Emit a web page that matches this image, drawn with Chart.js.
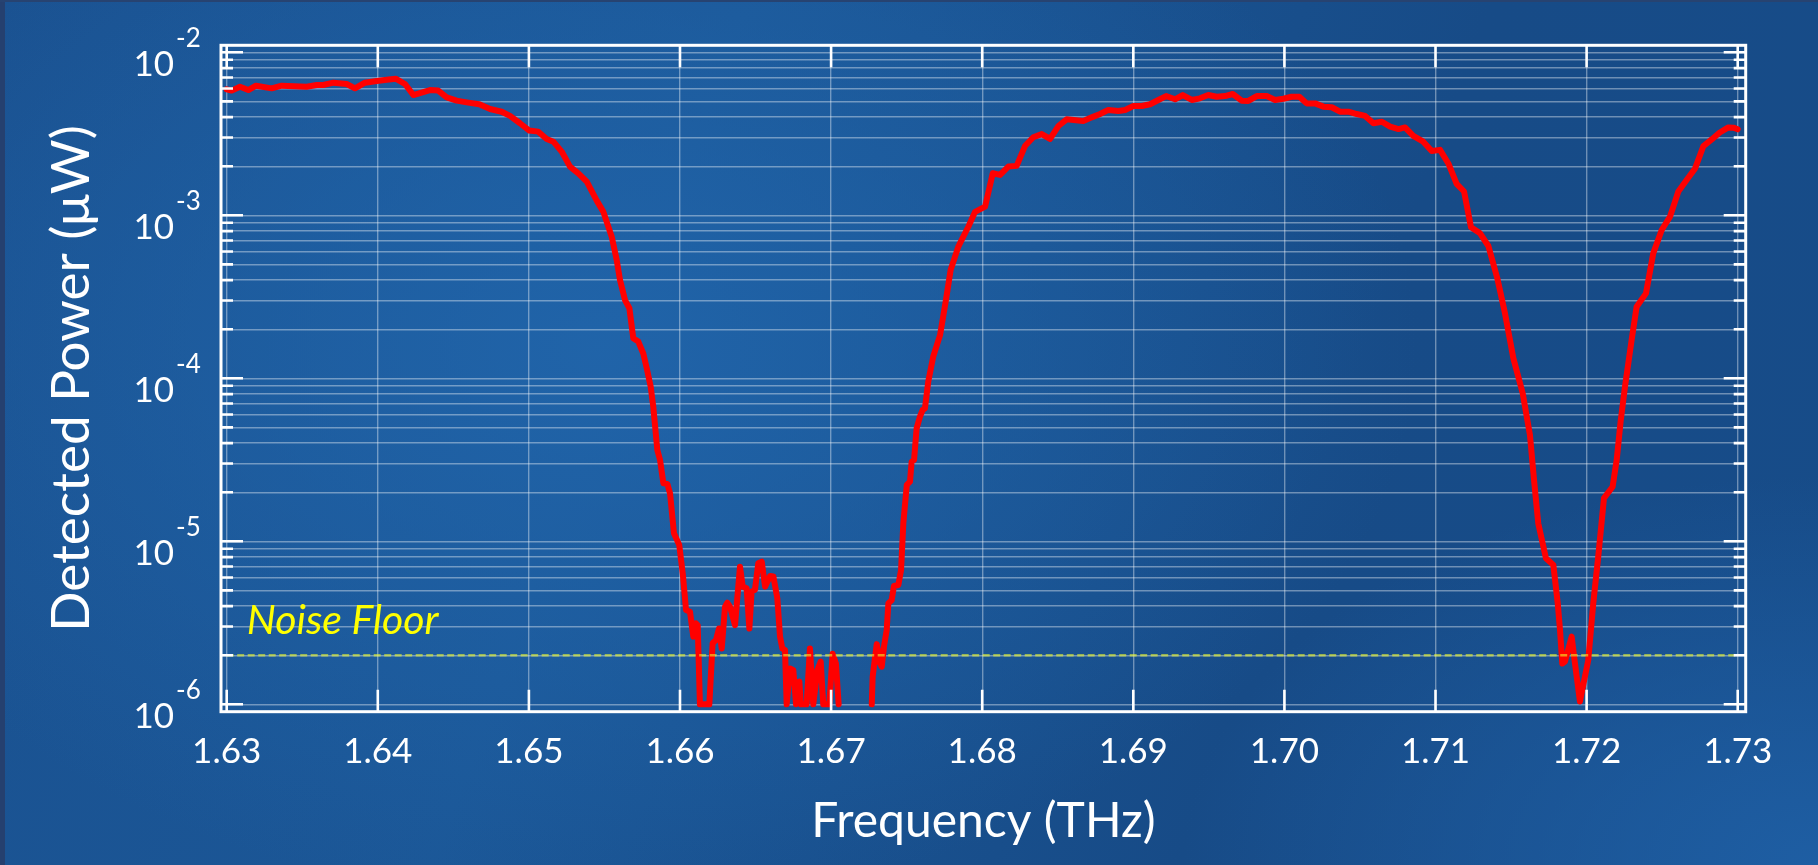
<!DOCTYPE html>
<html>
<head>
<meta charset="utf-8">
<title>Detected Power vs Frequency</title>
<script src="https://cdn.jsdelivr.net/npm/chart.js@4.4.1/dist/chart.umd.min.js"></script>
<style>
  html, body {
    margin: 0;
    padding: 0;
    overflow: hidden;
  }
  body {
    width: 1818px;
    height: 865px;
    position: relative;
    background:
      radial-gradient(ellipse 45% 65% at 33% 40%, rgba(33, 102, 172, 0.85), rgba(33, 102, 172, 0) 100%),
      radial-gradient(ellipse 35% 45% at 100% 100%, rgba(31, 96, 166, 0.9), rgba(31, 96, 166, 0) 100%),
      linear-gradient(110deg, #1a5190 0%, #1b5797 35%, #174b87 70%, #174c89 100%);
  }
  /* thin dark strips at the left and top edges of the slide */
  body::before {
    content: "";
    position: absolute;
    left: 0; top: 0; bottom: 0;
    width: 5px;
    background: #25406f;
  }
  body::after {
    content: "";
    position: absolute;
    left: 0; top: 0; right: 0;
    height: 2px;
    background: #274371;
  }
  #chart {
    position: absolute;
    left: 0;
    top: 0;
  }
</style>
</head>
<body>
<canvas id="chart" width="1818" height="865"></canvas>
<script>
// ---------------------------------------------------------------------
// Data
// ---------------------------------------------------------------------
const freqTHz = [
  1.63000, 1.63033, 1.63088, 1.63143, 1.63194, 1.63298, 1.63364, 1.63529, 1.63596, 1.63639,
  1.63706, 1.63794, 1.63849, 1.63915, 1.63993, 1.64059, 1.64118, 1.64180, 1.64235, 1.64345,
  1.64400, 1.64456, 1.64522, 1.64588, 1.64672, 1.64743, 1.64820, 1.64875, 1.64941, 1.65003,
  1.65062, 1.65118, 1.65162, 1.65217, 1.65272, 1.65327, 1.65383, 1.65449, 1.65493, 1.65548,
  1.65581, 1.65603, 1.65636, 1.65665, 1.65691, 1.65724, 1.65757, 1.65780, 1.65806, 1.65823,
  1.65850, 1.65868, 1.65890, 1.65916, 1.65934, 1.65960, 1.65995, 1.66018, 1.66040, 1.66066,
  1.66088, 1.66104, 1.66117, 1.66132, 1.66194, 1.66216, 1.66238, 1.66258, 1.66276, 1.66298,
  1.66313, 1.66331, 1.66364, 1.66397, 1.66415, 1.66441, 1.66459, 1.66474, 1.66496, 1.66518,
  1.66541, 1.66563, 1.66596, 1.66618, 1.66644, 1.66662, 1.66677, 1.66695, 1.66706, 1.66728,
  1.66750, 1.66768, 1.66790, 1.66799, 1.66838, 1.66860, 1.66882, 1.66909, 1.66931, 1.66948,
  1.66988, 1.67010, 1.67032, 1.67050, 1.67160, 1.67269, 1.67275, 1.67302, 1.67324, 1.67335,
  1.67350, 1.67368, 1.67379, 1.67401, 1.67416, 1.67445, 1.67463, 1.67478, 1.67501, 1.67522,
  1.67533, 1.67549, 1.67566, 1.67588, 1.67606, 1.67621, 1.67643, 1.67676, 1.67721, 1.67760,
  1.67791, 1.67842, 1.67908, 1.67953, 1.68019, 1.68070, 1.68118, 1.68173, 1.68228, 1.68283,
  1.68338, 1.68394, 1.68449, 1.68504, 1.68559, 1.68669, 1.68725, 1.68780, 1.68835, 1.68901,
  1.68946, 1.69000, 1.69056, 1.69111, 1.69166, 1.69217, 1.69276, 1.69327, 1.69387, 1.69441,
  1.69496, 1.69552, 1.69607, 1.69658, 1.69717, 1.69761, 1.69817, 1.69883, 1.69938, 1.69993,
  1.70048, 1.70099, 1.70147, 1.70203, 1.70258, 1.70313, 1.70368, 1.70423, 1.70479, 1.70534,
  1.70589, 1.70645, 1.70700, 1.70755, 1.70798, 1.70853, 1.70919, 1.70975, 1.71030, 1.71085,
  1.71140, 1.71189, 1.71235, 1.71295, 1.71350, 1.71409, 1.71460, 1.71515, 1.71577, 1.71625,
  1.71652, 1.71680, 1.71731, 1.71780, 1.71809, 1.71824, 1.71839, 1.71857, 1.71901, 1.71923,
  1.71956, 1.72011, 1.72044, 1.72077, 1.72115, 1.72172, 1.72199, 1.72225, 1.72254, 1.72298,
  1.72331, 1.72393, 1.72441, 1.72497, 1.72552, 1.72607, 1.72663, 1.72718, 1.72773, 1.72828,
  1.72879, 1.72938, 1.72971, 1.73000,
];

// detected power in µW; null = no reading (gap in the trace)
const powerUW = [
  5.93e-3, 5.82e-3, 6.15e-3, 5.87e-3, 6.24e-3, 6.01e-3, 6.24e-3, 6.15e-3, 6.30e-3, 6.30e-3,
  6.51e-3, 6.39e-3, 6.01e-3, 6.51e-3, 6.67e-3, 6.79e-3, 6.89e-3, 6.39e-3, 5.47e-3, 5.87e-3,
  5.82e-3, 5.29e-3, 5.05e-3, 4.93e-3, 4.80e-3, 4.49e-3, 4.32e-3, 4.07e-3, 3.67e-3, 3.31e-3,
  3.26e-3, 2.94e-3, 2.83e-3, 2.46e-3, 1.99e-3, 1.81e-3, 1.61e-3, 1.23e-3, 1.05e-3, 7.39e-4,
  5.32e-4, 4.01e-4, 3.02e-4, 2.69e-4, 1.76e-4, 1.68e-4, 1.42e-4, 1.15e-4, 8.89e-5, 6.70e-5,
  3.63e-5, 3.15e-5, 2.27e-5, 2.25e-5, 1.97e-5, 1.12e-5, 9.49e-6, 6.36e-6, 3.79e-6, 3.70e-6,
  2.60e-6, 3.14e-6, 3.06e-6, 1.00e-6, 1.00e-6, 2.37e-6, 2.48e-6, 2.92e-6, 2.20e-6, 3.97e-6,
  4.20e-6, 3.97e-6, 3.06e-6, 6.99e-6, 5.27e-6, 5.15e-6, 2.92e-6, 4.91e-6, 5.03e-6, 7.33e-6,
  7.50e-6, 5.27e-6, 6.12e-6, 6.08e-6, 4.47e-6, 2.60e-6, 2.20e-6, 2.15e-6, 1.00e-6, 1.66e-6,
  1.62e-6, 1.00e-6, 1.38e-6, 1.00e-6, 1.00e-6, 2.20e-6, 1.00e-6, 1.62e-6, 1.83e-6, 1.00e-6,
  1.00e-6, 2.04e-6, 1.78e-6, 1.00e-6, null,    1.00e-6, 1.48e-6, 2.34e-6, 1.78e-6, 1.70e-6,
  2.26e-6, 2.86e-6, 4.16e-6, 4.36e-6, 5.32e-6, 5.39e-6, 6.67e-6, 1.29e-5, 2.22e-5, 2.32e-5,
  3.08e-5, 3.15e-5, 4.93e-5, 5.82e-5, 6.39e-5, 6.54e-5, 9.53e-5, 1.36e-4, 1.84e-4, 3.02e-4,
  4.62e-4, 6.42e-4, 8.51e-4, 1.05e-3, 1.13e-3, 1.81e-3, 1.77e-3, 1.99e-3, 2.01e-3, 2.66e-3,
  3.01e-3, 3.15e-3, 2.94e-3, 3.53e-3, 3.88e-3, 3.79e-3, 3.99e-3, 4.18e-3, 4.43e-3, 4.36e-3,
  4.43e-3, 4.68e-3, 4.68e-3, 4.80e-3, 5.10e-3, 5.39e-3, 5.15e-3, 5.47e-3, 5.10e-3, 5.22e-3,
  5.47e-3, 5.34e-3, 5.39e-3, 5.55e-3, 5.05e-3, 5.03e-3, 5.39e-3, 5.39e-3, 5.10e-3, 5.19e-3,
  5.34e-3, 5.34e-3, 4.86e-3, 4.86e-3, 4.64e-3, 4.60e-3, 4.32e-3, 4.32e-3, 4.18e-3, 4.07e-3,
  3.67e-3, 3.75e-3, 3.50e-3, 3.38e-3, 3.46e-3, 3.07e-3, 2.83e-3, 2.48e-3, 2.52e-3, 2.08e-3,
  1.56e-3, 1.40e-3, 8.44e-4, 7.75e-4, 6.48e-4, 4.11e-4, 2.50e-4, 1.33e-4, 8.09e-5, 4.49e-5,
  2.38e-5, 1.29e-5, 7.86e-6, 7.15e-6, 4.16e-6, 2.86e-6, 1.78e-6, 1.83e-6, 2.60e-6, 1.78e-6,
  1.04e-6, 1.87e-6, 4.16e-6, 8.05e-6, 1.84e-5, 2.16e-5, 3.15e-5, 5.42e-5, 8.89e-5, 1.72e-4,
  2.75e-4, 3.32e-4, 5.84e-4, 8.12e-4, 9.81e-4, 1.40e-3, 1.65e-3, 1.94e-3, 2.66e-3, 2.92e-3,
  3.21e-3, 3.46e-3, 3.45e-3, 3.37e-3,
];

const noiseFloorUW = 2e-6;
const noiseFloorRange = [1.63, 1.73];

// tick labels
const xTickValues = [1.63, 1.64, 1.65, 1.66, 1.67, 1.68, 1.69, 1.70, 1.71, 1.72, 1.73];
const yExponents = [-6, -5, -4, -3, -2];
const yMantissas = [1, 2, 3, 4, 5, 6, 7, 8, 9];

// ---------------------------------------------------------------------
// Axis ranges: the white frame sits a few pixels outside the data range
// ---------------------------------------------------------------------
const X_MIN = 1.629623;
const X_MAX = 1.730529;
const Y_MIN = Math.pow(10, -6.0454);
const Y_MAX = Math.pow(10, -1.95706);

const GRID_COLOR = "rgba(255,255,255,0.38)";
const FONT = "Lato";

const yTickValues = [];
yExponents.forEach((e) => {
  if (e === yExponents[yExponents.length - 1]) {
    yTickValues.push(Math.pow(10, e));
    return;
  }
  yMantissas.forEach((m) => yTickValues.push(m * Math.pow(10, e)));
});

const isDecade = (v) => {
  const l = Math.log10(v);
  return Math.abs(l - Math.round(l)) < 1e-9;
};

const signalPoints = freqTHz.map((f, i) => ({ x: f, y: powerUW[i] }));
const noisePoints = noiseFloorRange.map((f) => ({ x: f, y: noiseFloorUW }));

// ---------------------------------------------------------------------
// Frame, inward tick marks, 10^n labels and the "Noise Floor" note
// ---------------------------------------------------------------------
const decorations = {
  id: "decorations",
  afterDraw(chart) {
    const { ctx, chartArea: a } = chart;
    const xs = chart.scales.x;
    const ys = chart.scales.y;
    ctx.save();

    // tick marks
    ctx.strokeStyle = "#ffffff";
    ctx.lineWidth = 2.6;
    ctx.beginPath();
    xTickValues.forEach((v) => {
      const px = xs.getPixelForValue(v);
      ctx.moveTo(px, a.top);
      ctx.lineTo(px, a.top + 22);
      ctx.moveTo(px, a.bottom);
      ctx.lineTo(px, a.bottom - 22);
    });
    yTickValues.forEach((v) => {
      const py = ys.getPixelForValue(v);
      const len = isDecade(v) ? 22 : 12;
      ctx.moveTo(a.left, py);
      ctx.lineTo(a.left + len, py);
      ctx.moveTo(a.right, py);
      ctx.lineTo(a.right - len, py);
    });
    ctx.stroke();

    // frame
    ctx.lineWidth = 3;
    ctx.strokeRect(a.left, a.top, a.right - a.left, a.bottom - a.top);

    // y labels: 10 with the exponent raised
    ctx.fillStyle = "#ffffff";
    ctx.textBaseline = "alphabetic";
    yExponents.forEach((e) => {
      const py = ys.getPixelForValue(Math.pow(10, e));
      ctx.font = `35px ${FONT}`;
      ctx.textAlign = "right";
      ctx.fillText("10", a.left - 47, py + 23.5);
      ctx.font = `26px ${FONT}`;
      ctx.textAlign = "left";
      ctx.fillText(String(e), a.left - 45, py - 5.5);
    });

    // noise floor note
    ctx.font = `italic 41px ${FONT}`;
    ctx.fillStyle = "#ffff00";
    ctx.textAlign = "left";
    ctx.fillText(
      "Noise Floor",
      xs.getPixelForValue(noiseFloorRange[0]) + 20,
      ys.getPixelForValue(noiseFloorUW) - 21
    );

    ctx.restore();
  },
};

// ---------------------------------------------------------------------
// Chart
// ---------------------------------------------------------------------
Chart.defaults.font.family = FONT;
Chart.defaults.color = "#ffffff";

new Chart(document.getElementById("chart"), {
  type: "line",
  data: {
    datasets: [
      {
        label: "Detected power",
        data: signalPoints,
        borderColor: "#ff0000",
        borderWidth: 6,
        pointRadius: 0,
        tension: 0,
        spanGaps: false,
        borderJoinStyle: "round",
        borderCapStyle: "round",
        order: 1,
      },
      {
        label: "Noise floor",
        data: noisePoints,
        borderColor: "rgba(240,250,40,0.58)",
        borderWidth: 2.3,
        borderDash: [7, 3.5],
        pointRadius: 0,
        order: 0,
      },
    ],
  },
  options: {
    responsive: false,
    animation: false,
    events: [],
    layout: { padding: { left: 0, top: 45.3, right: 72.3, bottom: 0 } },
    plugins: {
      legend: { display: false },
      tooltip: { enabled: false },
    },
    scales: {
      x: {
        type: "linear",
        min: X_MIN,
        max: X_MAX,
        bounds: "data",
        afterBuildTicks: (s) => {
          s.ticks = xTickValues.map((v) => ({ value: v }));
        },
        afterFit: (s) => {
          s.height = 153.3;
        },
        grid: { color: GRID_COLOR, lineWidth: 1.4, drawTicks: false },
        border: { display: false },
        ticks: {
          color: "#ffffff",
          font: { size: 35 },
          padding: 19,
          maxRotation: 0,
          autoSkip: false,
          callback: (v) => Number(v).toFixed(2),
        },
        title: {
          display: true,
          text: "Frequency (THz)",
          color: "#ffffff",
          font: { size: 48 },
          padding: { top: 0, bottom: 14.7 },
        },
      },
      y: {
        type: "logarithmic",
        min: Y_MIN,
        max: Y_MAX,
        bounds: "data",
        afterBuildTicks: (s) => {
          s.ticks = yTickValues.map((v) => ({ value: v }));
        },
        afterFit: (s) => {
          s.width = 221;
        },
        grid: { color: GRID_COLOR, lineWidth: 1.4, drawTicks: false },
        border: { display: false },
        ticks: { display: false },
        title: {
          display: true,
          text: "Detected Power (μW)",
          color: "#ffffff",
          font: { size: 53 },
          padding: { top: 40, bottom: 0 },
        },
      },
    },
  },
  plugins: [decorations],
});
</script>
</body>
</html>
